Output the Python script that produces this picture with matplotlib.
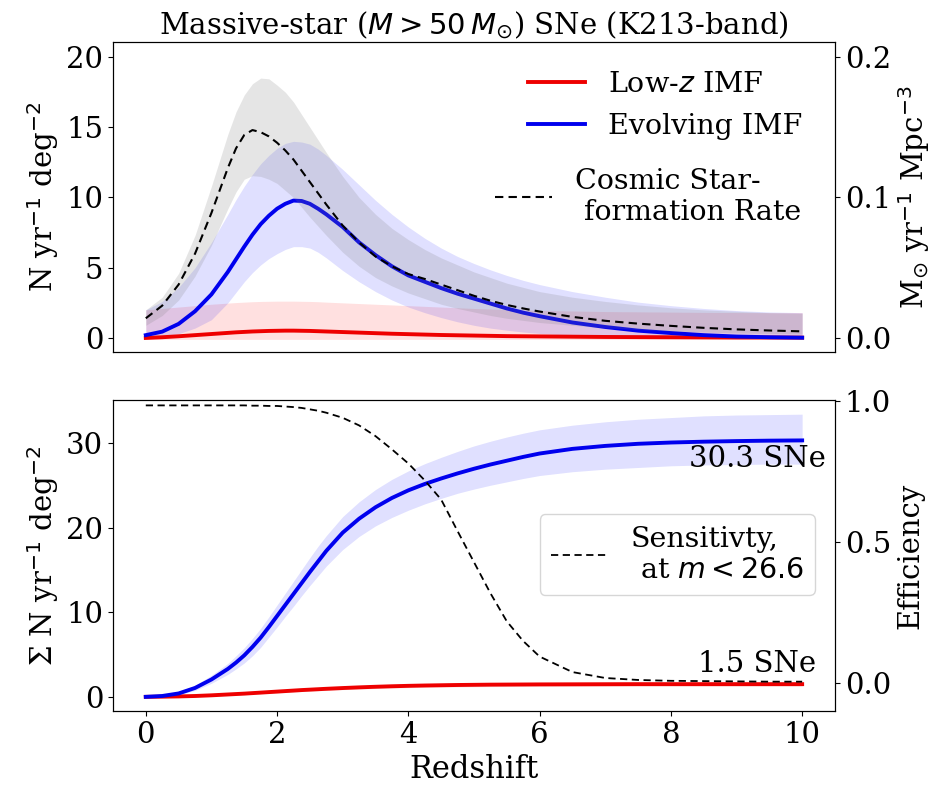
import matplotlib
matplotlib.use("Agg")
import matplotlib.pyplot as plt

plt.rcParams['font.family'] = ['DejaVu Serif']
plt.rcParams['mathtext.fontset'] = 'dejavusans'

# ---------------- data ----------------
z = [0, 0.25, 0.5, 0.75, 1, 1.25,
     1.375, 1.5, 1.625, 1.75, 1.875, 2, 2.125, 2.25, 2.375, 2.5, 2.625, 2.75,
     3, 3.25, 3.5, 3.75, 4, 4.25, 4.5, 4.75, 5, 5.25, 5.5, 5.75, 6,
     6.5, 7, 7.5, 8, 8.5, 9, 9.5, 10]

# top panel: rates (N / yr / deg^2)
low_rate = [0.0, 0.05, 0.12, 0.2, 0.28, 0.36,
            0.40, 0.43, 0.46, 0.48, 0.50, 0.51, 0.52, 0.52, 0.51, 0.5, 0.48, 0.46,
            0.42, 0.38, 0.34, 0.3, 0.27, 0.24, 0.21, 0.19, 0.17, 0.15, 0.13, 0.12, 0.11,
            0.09, 0.07, 0.06, 0.05, 0.04, 0.03, 0.03, 0.02]
low_rate_hi = [2.0, 2.1, 2.2, 2.3, 2.4, 2.48,
               2.52, 2.55, 2.58, 2.6, 2.61, 2.62, 2.62, 2.62, 2.61, 2.6, 2.58, 2.55,
               2.5, 2.45, 2.4, 2.35, 2.3, 2.25, 2.2, 2.15, 2.1, 2.06, 2.02, 1.99, 1.96,
               1.92, 1.88, 1.86, 1.84, 1.82, 1.81, 1.8, 1.8]
low_rate_lo = [-0.1] * 39

evo_rate = [0.2, 0.45, 1.0, 1.9, 3.1, 4.7,
            5.6, 6.5, 7.35, 8.1, 8.7, 9.2, 9.55, 9.78, 9.75, 9.55, 9.2, 8.8,
            7.9, 6.8, 5.9, 5.1, 4.45, 4.0, 3.55, 3.15, 2.8, 2.45, 2.1, 1.8, 1.55,
            1.1, 0.78, 0.52, 0.35, 0.2, 0.1, 0.05, 0.02]
evo_rate_hi = [2.0, 2.6, 3.6, 5.0, 6.8, 8.8,
               9.85, 10.8, 11.65, 12.4, 13.0, 13.5, 13.85, 14.0, 13.95, 13.8, 13.45, 13.0,
               12.0, 10.9, 9.8, 8.8, 7.9, 7.1, 6.4, 5.8, 5.3, 4.85, 4.45, 4.1, 3.8,
               3.3, 2.9, 2.55, 2.3, 2.1, 1.95, 1.85, 1.8]
evo_rate_lo = [0.0, 0.1, 0.3, 0.7, 1.3, 2.5,
               3.25, 4.0, 4.65, 5.2, 5.65, 6.0, 6.3, 6.5, 6.5, 6.4, 6.1, 5.7,
               4.8, 4.0, 3.3, 2.7, 2.2, 1.8, 1.45, 1.15, 0.9, 0.7, 0.55, 0.42, 0.32,
               0.18, 0.1, 0.05, 0.02, 0.0, 0.0, 0.0, 0.0]

# cosmic star-formation rate (Msun / yr / Mpc^3)
csfr = [0.014, 0.023, 0.038, 0.060, 0.089, 0.121,
        0.135, 0.1445, 0.148, 0.1465, 0.1435, 0.139, 0.1335, 0.127, 0.119, 0.111, 0.103, 0.095,
        0.080, 0.068, 0.058, 0.051, 0.0455, 0.042, 0.038, 0.034, 0.030, 0.0265, 0.0235, 0.021, 0.0188,
        0.015, 0.0122, 0.0102, 0.0086, 0.0072, 0.0061, 0.0053, 0.0047]
csfr_hi = [0.020, 0.029, 0.046, 0.073, 0.108, 0.145,
           0.161, 0.173, 0.181, 0.185, 0.1845, 0.180, 0.175, 0.168, 0.159, 0.150, 0.141, 0.132,
           0.115, 0.100, 0.088, 0.078, 0.070, 0.063, 0.057, 0.052, 0.047, 0.043, 0.039, 0.036, 0.033,
           0.029, 0.026, 0.0235, 0.0215, 0.020, 0.019, 0.018, 0.0175]
csfr_lo = [0.009, 0.016, 0.027, 0.044, 0.066, 0.092,
           0.104, 0.113, 0.1155, 0.115, 0.113, 0.110, 0.105, 0.100, 0.093, 0.086, 0.0795, 0.073,
           0.061, 0.051, 0.043, 0.037, 0.032, 0.028, 0.024, 0.021, 0.0185, 0.016, 0.014, 0.0125, 0.011,
           0.009, 0.0072, 0.006, 0.005, 0.0042, 0.0036, 0.0032, 0.0028]

# bottom panel: cumulative numbers
cum_low = [0.0, 0.02, 0.05, 0.1, 0.18, 0.28,
           0.33, 0.38, 0.44, 0.5, 0.56, 0.62, 0.68, 0.74, 0.8, 0.85, 0.9, 0.95,
           1.04, 1.12, 1.19, 1.25, 1.3, 1.34, 1.37, 1.4, 1.42, 1.44, 1.45, 1.46, 1.47,
           1.48, 1.49, 1.5, 1.5, 1.5, 1.5, 1.5, 1.5]
cum_low_hi = [0.05, 0.08, 0.12, 0.18, 0.27, 0.38,
              0.44, 0.5, 0.565, 0.63, 0.7, 0.77, 0.835, 0.9, 0.96, 1.02, 1.075, 1.13,
              1.23, 1.32, 1.4, 1.47, 1.52, 1.56, 1.6, 1.63, 1.65, 1.67, 1.68, 1.69, 1.7,
              1.71, 1.72, 1.73, 1.73, 1.73, 1.73, 1.73, 1.73]
cum_low_lo = [0.0, 0.0, 0.0, 0.03, 0.09, 0.18,
              0.22, 0.26, 0.315, 0.37, 0.42, 0.47, 0.525, 0.58, 0.63, 0.68, 0.725, 0.77,
              0.85, 0.92, 0.98, 1.03, 1.08, 1.12, 1.14, 1.17, 1.19, 1.21, 1.22, 1.23, 1.24,
              1.25, 1.26, 1.27, 1.27, 1.27, 1.27, 1.27, 1.27]

cum_evo = [0.0, 0.1, 0.4, 1.05, 2.05, 3.3,
           4.05, 4.9, 5.9, 7.0, 8.25, 9.55, 10.85, 12.15, 13.45, 14.75, 16.0, 17.25,
           19.4, 21.05, 22.4, 23.5, 24.4, 25.15, 25.8, 26.4, 26.95, 27.45, 27.9, 28.35, 28.75,
           29.3, 29.65, 29.9, 30.05, 30.15, 30.22, 30.27, 30.3]
cum_evo_hi = [0.1, 0.2, 0.6, 1.35, 2.55, 3.95,
              4.85, 5.8, 6.9, 8.1, 9.45, 10.85, 12.25, 13.65, 15.05, 16.45, 17.8, 19.05,
              21.3, 23.05, 24.5, 25.7, 26.7, 27.55, 28.3, 29.0, 29.65, 30.2, 30.7, 31.15, 31.55,
              32.1, 32.5, 32.8, 33.0, 33.2, 33.3, 33.35, 33.4]
cum_evo_lo = [0.0, 0.05, 0.25, 0.75, 1.6, 2.65,
              3.3, 4.0, 4.85, 5.85, 7.05, 8.25, 9.5, 10.7, 11.95, 13.15, 14.3, 15.45,
              17.4, 18.95, 20.2, 21.2, 22.05, 22.8, 23.45, 24.05, 24.55, 25.0, 25.4, 25.8, 26.15,
              26.6, 26.9, 27.1, 27.3, 27.4, 27.45, 27.5, 27.5]

efficiency = [0.986, 0.986, 0.986, 0.986, 0.986, 0.986,
              0.986, 0.986, 0.985, 0.985, 0.984, 0.984, 0.982, 0.98, 0.977, 0.972, 0.967, 0.96,
              0.942, 0.915, 0.877, 0.83, 0.78, 0.72, 0.652, 0.54, 0.43, 0.32, 0.22, 0.15, 0.095,
              0.04, 0.019, 0.012, 0.009, 0.008, 0.007, 0.006, 0.006]

total_low = 1.5
total_evo = 30.3

# ---------------- figure ----------------
fig = plt.figure(figsize=(9.47, 7.85), dpi=100)
ax1 = fig.add_axes([0.1193, 0.5516, 0.7624, 0.3949])
ax2 = fig.add_axes([0.1193, 0.0943, 0.7624, 0.3961], sharex=ax1)
ax1r = ax1.twinx()
ax2r = ax2.twinx()

FS = 21
TFS = 21
LFS = 20.5
RED = '#ee0000'
BLUE = '#0000ee'

# top panel
ax1.fill_between(z, low_rate_lo, low_rate_hi, color='red', alpha=0.12, lw=0)
ax1.fill_between(z, evo_rate_lo, evo_rate_hi, color='blue', alpha=0.12, lw=0)
l_low, = ax1.plot(z, low_rate, color=RED, lw=2.8, label='Low-$z$ IMF')
l_evo, = ax1.plot(z, evo_rate, color=BLUE, lw=2.8, label='Evolving IMF')
ax1r.fill_between(z, csfr_lo, csfr_hi, color='gray', alpha=0.2, lw=0)
l_sfr, = ax1r.plot(z, csfr, color='black', lw=1.5, ls=(0, (4, 2.5)),
                   label='Cosmic Star-\n formation Rate')

ax1.set_ylim(-1.0, 21.07)
ax1r.set_ylim(-0.010, 0.2107)
ax1.set_yticks([0, 5, 10, 15, 20])
ax1r.set_yticks([0.0, 0.1, 0.2])
ax1.set_ylabel('N yr$^{-1}$ deg$^{-2}$', fontsize=FS)
ax1r.set_ylabel(r'M$_{\odot}$ yr$^{-1}$ Mpc$^{-3}$', fontsize=FS)
ax1.set_title(r'Massive-star ($M > 50\,M_{\odot}$) SNe (K213-band)', fontsize=FS, pad=6)
ax1.tick_params(bottom=False, labelbottom=False, labelsize=TFS)
ax1r.tick_params(labelsize=TFS)

leg1 = ax1r.legend(handles=[l_low, l_evo], loc='upper left', bbox_to_anchor=(0.575, 0.908),
                   frameon=False, fontsize=LFS, handlelength=2.0, handletextpad=0.8,
                   labelspacing=0.53, borderaxespad=0, borderpad=0)
ax1r.add_artist(leg1)
ax1r.legend(handles=[l_sfr], loc='upper left', bbox_to_anchor=(0.529, 0.594),
            frameon=False, fontsize=LFS, handlelength=2.0, handletextpad=0.8,
            borderaxespad=0, borderpad=0)

# bottom panel
ax2.fill_between(z, cum_low_lo, cum_low_hi, color='red', alpha=0.12, lw=0)
ax2.fill_between(z, cum_evo_lo, cum_evo_hi, color='blue', alpha=0.12, lw=0)
ax2.plot(z, cum_low, color=RED, lw=2.8)
ax2.plot(z, cum_evo, color=BLUE, lw=2.8)
l_eff, = ax2r.plot(z, efficiency, color='black', lw=1.3, ls=(0, (4, 2.5)),
                   label='Sensitivty,\n at $m < 26.6$')
ax2.text(9.32, 28.1, f'{total_evo} SNe', fontsize=FS, ha='center', va='center')
ax2.text(9.32, 3.9, f'{total_low} SNe', fontsize=FS, ha='center', va='center')

ax2.set_ylim(-1.67, 35.07)
ax2r.set_ylim(-0.098, 1.005)
ax2.set_yticks([0, 10, 20, 30])
ax2r.set_yticks([0.0, 0.5, 1.0])
ax2.set_ylabel('\u03a3 N yr$^{-1}$ deg$^{-2}$', fontsize=FS)
ax2r.set_ylabel('Efficiency', fontsize=FS)
ax2.set_xlabel('Redshift', fontsize=FS + 1)
ax2.set_xlim(-0.5, 10.5)
ax2.set_xticks([0, 2, 4, 6, 8, 10])
ax2.tick_params(labelsize=TFS)
ax2r.tick_params(labelsize=TFS)
ax2r.legend(handles=[l_eff], loc='upper left', bbox_to_anchor=(0.591, 0.633),
            fontsize=LFS, handlelength=2.0, handletextpad=0.8, borderaxespad=0)

fig.savefig('out.png', dpi=100)
